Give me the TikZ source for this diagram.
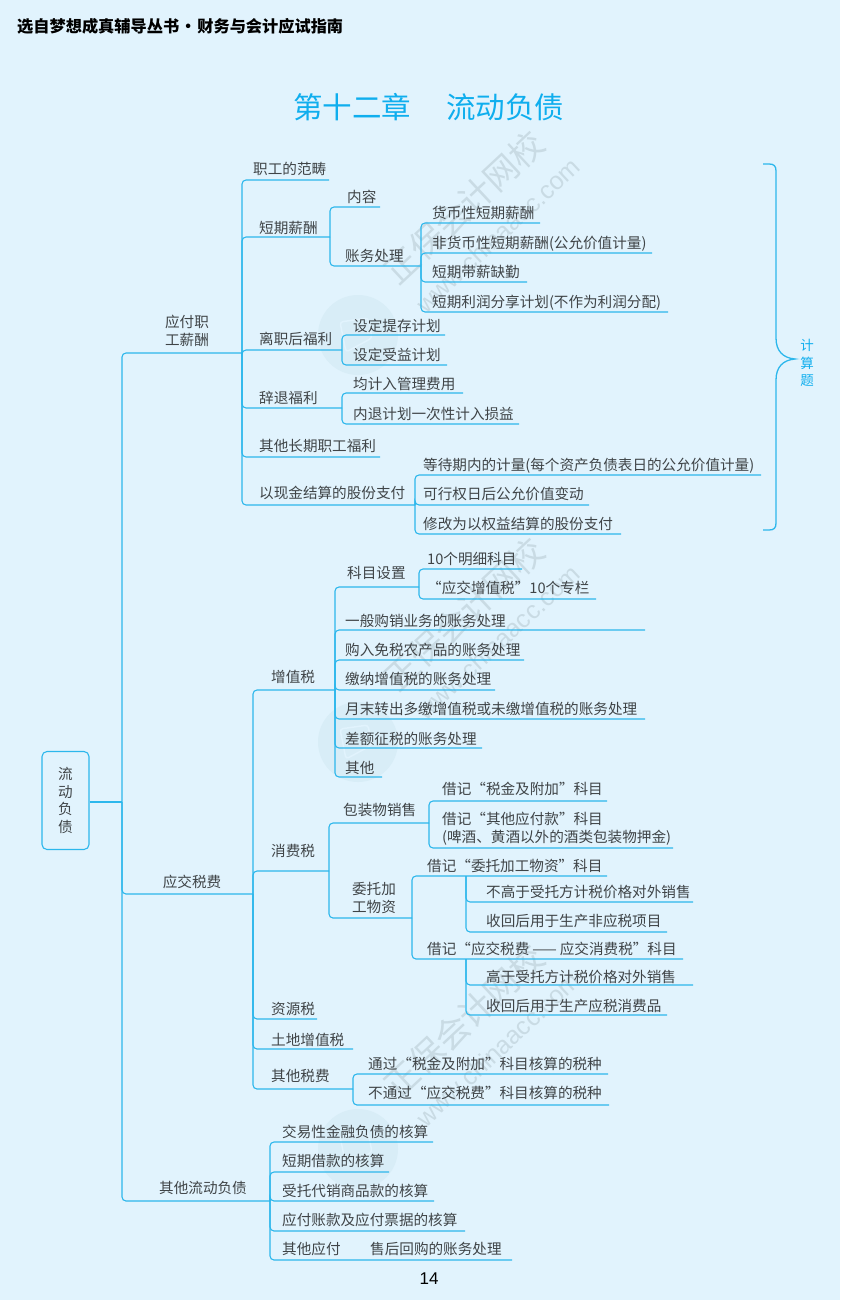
\documentclass[tikz,border=0pt]{standalone}
\usepackage{fontspec}
\setmainfont{Noto Sans CJK SC}
\newfontfamily\numfont{Liberation Sans}
\definecolor{bgcol}{HTML}{E1F3FD}
\definecolor{linecol}{HTML}{2CB7EC}
\definecolor{titlecol}{HTML}{0FAEEE}
\definecolor{textcol}{HTML}{3F4447}
\definecolor{markcol}{HTML}{C9DBE4}
\definecolor{sealcol}{HTML}{D8EDF7}
\tikzset{
  conn/.style={draw=linecol,line width=1.1pt,rounded corners=4pt},
  txt/.style={anchor=west,inner sep=0pt,text=textcol,font=\fontsize{14.6}{18}\selectfont,text height=12.5pt,text depth=1.5pt},
  ctxt/.style={txt,anchor=center,align=center},
  wmark/.style={rotate=43,inner sep=0pt,text=markcol}
}

\begin{document}
\begin{tikzpicture}[x=1pt,y=-1pt]
    \fill[bgcol] (0,0) rectangle (840,1300);

    \foreach \dy in {0,407,814} {
        \begin{scope}[yshift=-\dy pt]
            \fill[sealcol] (358,335) circle (40);
            \draw[bgcol,line width=1.5pt,rounded corners=3pt] (340,322) -- (368,318) -- (372,338) -- (346,352) -- cycle;
            \node[wmark,font=\fontsize{34}{34}\selectfont] (zhengbao\dy) at (464,207) {正保会计网校};
            \node[wmark,font=\numfont\fontsize{25}{25}\selectfont] (www\dy) at (498,235) {www.chinaacc.com};
        \end{scope}
    }

    \node[anchor=west,inner sep=0pt,text=black,font=\fontsize{16.2}{18}\selectfont\bfseries] (header) at (17,26) {选自梦想成真辅导丛书\hspace{1pt}·\hspace{1pt}财务与会计应试指南};
    \node[anchor=center,inner sep=0pt,text=titlecol,font=\fontsize{29.5}{32}\selectfont] (titleA) at (352,107) {第十二章};
    \node[anchor=center,inner sep=0pt,text=titlecol,font=\fontsize{29.5}{32}\selectfont] (titleB) at (505,107) {流动负债};
    \node[inner sep=0pt,text=black,font=\numfont\fontsize{17}{17}\selectfont] (pageno) at (429,1279) {14};

    \node[draw=linecol,line width=1.1pt,rounded corners=5pt,minimum width=47pt,minimum height=98pt,inner sep=0pt,align=center,text=textcol,font=\fontsize{14.6}{17.7}\selectfont] (root) at (65.5,800.5) {流\\动\\负\\债};

    \coordinate (rootJ)      at (122,802);
    \coordinate (yingfuE)    at (242,353);
    \coordinate (yingjiaoE)  at (253,894);
    \coordinate (qitaliuE)   at (270,1201);

    \coordinate (fanchouE)   at (329,180);
    \coordinate (duanqiE)    at (330,237);
    \coordinate (lizhiE)     at (342,350);
    \coordinate (cituiE)     at (342,408);
    \coordinate (changqiE)   at (380,457);
    \coordinate (guqianE)    at (415,505);
    \coordinate (neirongE)   at (380,207);
    \coordinate (zhangwuE)   at (421,266);
    \coordinate (huobiE)     at (540,223);
    \coordinate (feihuobiE)  at (652,253);
    \coordinate (daixinE)    at (527,282);
    \coordinate (lirunE)     at (668,312);
    \coordinate (tichunE)    at (445,335);
    \coordinate (shouyiE)    at (447,365);
    \coordinate (guanliE)    at (463,393);
    \coordinate (neituiE)    at (519,424);
    \coordinate (dengdaiE)   at (761,475);
    \coordinate (kexingE)    at (589,505);
    \coordinate (xiugaiE)    at (621,534);

    \coordinate (zengzhiE)   at (335,690);
    \coordinate (xiaofeiE)   at (329,871);
    \coordinate (ziyuanE)    at (317,1019);
    \coordinate (tudiE)      at (353,1049);
    \coordinate (qitashuiE)  at (353,1089);
    \coordinate (kemuE)      at (419,587);
    \coordinate (yibanE)     at (645,630);
    \coordinate (mianshuiE)  at (524,660);
    \coordinate (jiaonaE)    at (495,690);
    \coordinate (yuemoE)     at (645,719);
    \coordinate (chaeE)      at (482,748);
    \coordinate (qitazzE)    at (382,777);
    \coordinate (mingxiE)    at (522,569);
    \coordinate (zhuanlanE)  at (596,599);
    \coordinate (baozhuangE) at (429,823);
    \coordinate (weituoE)    at (412,918);
    \coordinate (shuijinE)   at (607,801);
    \coordinate (qitayfE)    at (673,848);
    \coordinate (jiweiE)     at (607,876);
    \coordinate (jijiaoE)    at (683,959);
    \coordinate (jiweiJ)     at (466,876);
    \coordinate (jijiaoJ)    at (466,959);
    \coordinate (bugaoE)     at (693,902);
    \coordinate (feishuiE)   at (667,932);
    \coordinate (gaoyuE)     at (693,985);
    \coordinate (yingshuiE)  at (667,1015);
    \coordinate (tongguoE)   at (608,1074);
    \coordinate (butongE)    at (609,1105);

    \coordinate (jiaoyiE)    at (433,1142);
    \coordinate (jiekuanE)   at (389,1172);
    \coordinate (daixiaoE)   at (434,1201);
    \coordinate (zhangkuanE) at (465,1231);
    \coordinate (qitayingE)  at (512,1260);

    \coordinate (braceT) at (763,164);
    \coordinate (braceM) at (795,359);
    \coordinate (braceB) at (763,530);

    \draw[conn] (root.east |- rootJ) -- (rootJ);
    \foreach \e in {yingfuE,yingjiaoE,qitaliuE} \draw[conn] (rootJ) |- (\e);
    \foreach \e in {fanchouE,duanqiE,lizhiE,cituiE,changqiE,guqianE} \draw[conn] (yingfuE) |- (\e);
    \foreach \e in {neirongE,zhangwuE} \draw[conn] (duanqiE) |- (\e);
    \foreach \e in {huobiE,feihuobiE,daixinE,lirunE} \draw[conn] (zhangwuE) |- (\e);
    \foreach \e in {tichunE,shouyiE} \draw[conn] (lizhiE) |- (\e);
    \foreach \e in {guanliE,neituiE} \draw[conn] (cituiE) |- (\e);
    \foreach \e in {dengdaiE,kexingE,xiugaiE} \draw[conn] (guqianE) |- (\e);
    \foreach \e in {zengzhiE,xiaofeiE,ziyuanE,tudiE,qitashuiE} \draw[conn] (yingjiaoE) |- (\e);
    \foreach \e in {kemuE,yibanE,mianshuiE,jiaonaE,yuemoE,chaeE,qitazzE} \draw[conn] (zengzhiE) |- (\e);
    \foreach \e in {mingxiE,zhuanlanE} \draw[conn] (kemuE) |- (\e);
    \foreach \e in {baozhuangE,weituoE} \draw[conn] (xiaofeiE) |- (\e);
    \foreach \e in {shuijinE,qitayfE} \draw[conn] (baozhuangE) |- (\e);
    \foreach \e in {jiweiE,jijiaoE} \draw[conn] (weituoE) |- (\e);
    \foreach \e in {bugaoE,feishuiE} \draw[conn] (jiweiJ) |- (\e);
    \foreach \e in {gaoyuE,yingshuiE} \draw[conn] (jijiaoJ) |- (\e);
    \foreach \e in {tongguoE,butongE} \draw[conn] (qitashuiE) |- (\e);
    \foreach \e in {jiaoyiE,jiekuanE,daixiaoE,zhangkuanE,qitayingE} \draw[conn] (qitaliuE) |- (\e);

    \draw[draw=linecol,line width=1.3pt] (braceT) -- (769,164) .. controls (774,164) and (776,166) .. (776,171) -- (776,338)
        .. controls (776,351) and (783,358) .. (braceM) .. controls (783,360) and (776,367) .. (776,380) -- (776,523)
        .. controls (776,528) and (774,530) .. (769,530) -- (braceB);
    \node[inner sep=0pt,align=center,text=titlecol,font=\fontsize{13.5}{17.2}\selectfont] (jisuan) at (807,363) {计\\算\\题};

    \node[ctxt] (yingfu)    at (187,340) {应付职\\工薪酬};
    \node[ctxt] (yingjiao)  at (192,882) {应交税费};
    \node[ctxt] (qitaliu)   at (203,1188) {其他流动负债};

    \node[txt] (fanchou)    at (253,169) {职工的范畴};
    \node[txt] (duanqi)     at (259,228) {短期薪酬};
    \node[txt] (lizhi)      at (259,339) {离职后福利};
    \node[txt] (citui)      at (259,398) {辞退福利};
    \node[txt] (changqi)    at (259,446) {其他长期职工福利};
    \node[txt] (guqian)     at (259,493) {以现金结算的股份支付};
    \node[txt] (neirong)    at (347,197) {内容};
    \node[txt] (zhangwu)    at (345,256) {账务处理};
    \node[txt] (huobi)      at (432,213) {货币性短期薪酬};
    \node[txt] (feihuobi)   at (432,243) {非货币性短期薪酬(公允价值计量)};
    \node[txt] (daixin)     at (432,272) {短期带薪缺勤};
    \node[txt] (lirun)      at (432,302) {短期利润分享计划(不作为利润分配)};
    \node[txt] (tichun)     at (353,326) {设定提存计划};
    \node[txt] (shouyi)     at (353,355) {设定受益计划};
    \node[txt] (guanli)     at (353,384) {均计入管理费用};
    \node[txt] (neitui)     at (353,414) {内退计划一次性计入损益};
    \node[txt] (dengdai)    at (423,465) {等待期内的计量(每个资产负债表日的公允价值计量)};
    \node[txt] (kexing)     at (423,494) {可行权日后公允价值变动};
    \node[txt] (xiugai)     at (423,524) {修改为以权益结算的股份支付};

    \node[txt] (zengzhi)    at (271,677) {增值税};
    \node[txt] (xiaofei)    at (271,851) {消费税};
    \node[txt] (ziyuan)     at (271,1009) {资源税};
    \node[txt] (tudi)       at (271,1040) {土地增值税};
    \node[txt] (qitashui)   at (271,1076) {其他税费};
    \node[txt] (kemu)       at (347,573) {科目设置};
    \node[txt] (yiban)      at (345,621) {一般购销业务的账务处理};
    \node[txt] (mianshui)   at (345,650) {购入免税农产品的账务处理};
    \node[txt] (jiaona)     at (345,679) {缴纳增值税的账务处理};
    \node[txt] (yuemo)      at (345,709) {月末转出多缴增值税或未缴增值税的账务处理};
    \node[txt] (chae)       at (345,739) {差额征税的账务处理};
    \node[txt] (qitazz)     at (345,768) {其他};
    \node[txt] (mingxi)     at (427,559) {10个明细科目};
    \node[txt] (zhuanlan)   at (427,588) {“应交增值税”10个专栏};
    \node[txt] (baozhuang)  at (343,810) {包装物销售};
    \node[ctxt] (weituo)    at (374,907) {委托加\\工物资};
    \node[txt] (shuijin)    at (442,789) {借记“税金及附加”科目};
    \node[txt,align=left]   (qitayf) at (442,837) {借记“其他应付款”科目\\(啤酒、黄酒以外的酒类包装物押金)};
    \node[txt] (jiwei)      at (427,866) {借记“委托加工物资”科目};
    \node[txt] (jijiao)     at (427,949) {借记“应交税费\hspace{3pt}——\hspace{3pt}应交消费税”科目};
    \node[txt] (bugao)      at (486,892) {不高于受托方计税价格对外销售};
    \node[txt] (feishui)    at (486,921) {收回后用于生产非应税项目};
    \node[txt] (gaoyu)      at (486,977) {高于受托方计税价格对外销售};
    \node[txt] (yingshui)   at (486,1006) {收回后用于生产应税消费品};
    \node[txt] (tongguo)    at (368,1064) {通过“税金及附加”科目核算的税种};
    \node[txt] (butong)     at (368,1093) {不通过“应交税费”科目核算的税种};

    \node[txt] (jiaoyi)     at (282,1132) {交易性金融负债的核算};
    \node[txt] (jiekuan)    at (282,1161) {短期借款的核算};
    \node[txt] (daixiao)    at (282,1191) {受托代销商品款的核算};
    \node[txt] (zhangkuan)  at (282,1220) {应付账款及应付票据的核算};
    \node[txt] (qitaying)   at (282,1249) {其他应付};
    \node[txt] (shouhou)    at (370,1249) {售后回购的账务处理};
\end{tikzpicture}
\end{document}
